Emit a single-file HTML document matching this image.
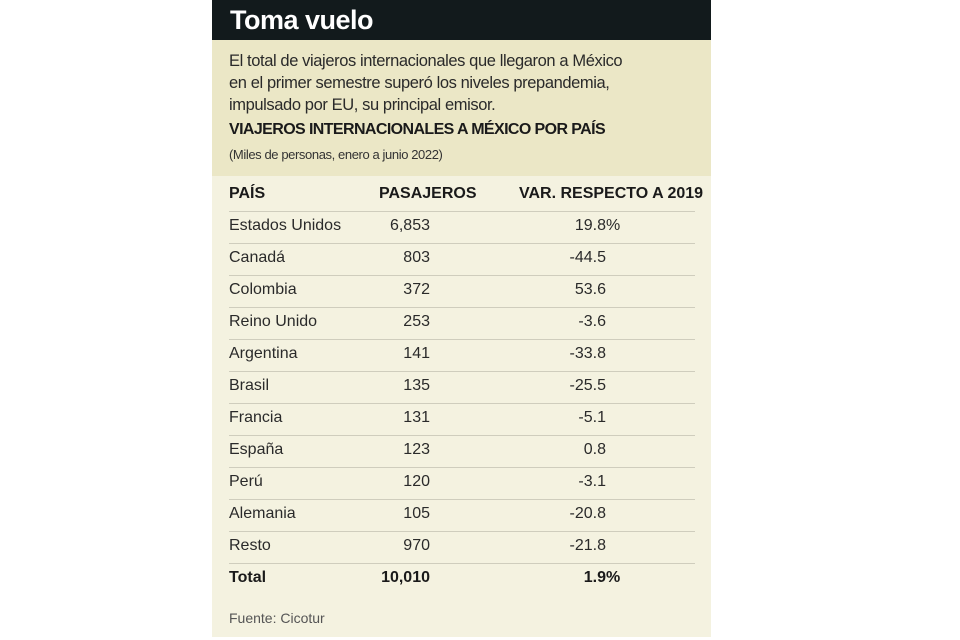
<!DOCTYPE html>
<html><head><meta charset="utf-8"><style>
body{margin:0;width:960px;height:640px;background:#fff;font-family:"Liberation Sans",sans-serif;position:relative;overflow:hidden}
#card{position:absolute;left:212px;top:0;width:499px;height:637px;background:#f4f2e0}
#hdr{position:absolute;left:0;top:0;width:499px;height:40px;background:#121a1c}
#hdr h1{margin:0;position:absolute;left:18px;top:5px;color:#fff;font-size:27px;font-weight:bold;letter-spacing:-0.5px}
#intro{position:absolute;left:0;top:40px;width:499px;height:136px;background:#ebe7c6}
.t{position:absolute;color:#222;white-space:nowrap}
#desc{left:17px;top:10px;font-size:16.5px;line-height:22px;letter-spacing:-0.4px;color:#2a2a2a}
#sub{left:17px;top:81px;font-size:16px;font-weight:bold;letter-spacing:-0.6px;color:#1a1a1a}
#unit{left:17px;top:107px;font-size:13px;letter-spacing:-0.4px;color:#333}
.row{position:absolute;left:17px;width:466px;height:32px;font-size:16px;color:#2a2a2a}
.row span{position:absolute;top:6px;white-space:nowrap}
.line{position:absolute;left:17px;width:466px;height:1px;background:#cfcdbd}
</style></head><body>
<div id="card">
 <div id="hdr"><h1>Toma vuelo</h1></div>
 <div id="intro">
  <div class="t" id="desc">El total de viajeros internacionales que llegaron a México<br>en el primer semestre superó los niveles prepandemia,<br>impulsado por EU, su principal emisor.</div>
  <div class="t" id="sub">VIAJEROS INTERNACIONALES A MÉXICO POR PAÍS</div>
  <div class="t" id="unit">(Miles de personas, enero a junio 2022)</div>
 </div>
 <div id="tbl"></div>
 <div class="t" style="left:17px;top:610px;font-size:14px;color:#555">Fuente: Cicotur</div>
</div>
<script>
const countries=["Estados Unidos","Canadá","Colombia","Reino Unido","Argentina","Brasil","Francia","España","Perú","Alemania","Resto"];
const passengers=["6,853","803","372","253","141","135","131","123","120","105","970"];
const variation=["19.8%","-44.5","53.6","-3.6","-33.8","-25.5","-5.1","0.8","-3.1","-20.8","-21.8"];
const totalLabel="Total",totalPassengers="10,010",totalVar="1.9%";
const tbl=document.getElementById('tbl');
function row(y,a,b,c,bold,name){
 const r=document.createElement('div');r.className='row';r.style.top=y+'px';
 
 
 if(bold){r.style.fontWeight='bold';r.style.color='#1a1a1a';}
 const pct=c.endsWith('%');const cv=pct?c.slice(0,-1):c;
 r.innerHTML='<span style="left:0">'+a+'</span><span style="right:265px">'+b+'</span><span style="right:89px">'+cv+'</span>'+(pct?'<span style="left:377px">%</span>':'');
 tbl.appendChild(r);
}
function line(y){const l=document.createElement('div');l.className='line';l.style.top=y+'px';
 
 
 tbl.appendChild(l);}
const h=document.createElement('div');h.className='row';h.style.top='179px';h.style.fontWeight='bold';h.style.color='#1a1a1a';


h.innerHTML='<span style="left:0">PAÍS</span><span style="left:150px">PASAJEROS</span><span style="left:290px">VAR. RESPECTO A 2019</span>';
tbl.appendChild(h);
line(211);
countries.forEach((c,i)=>{row(211+i*32,c,passengers[i],variation[i],false,'table-row');line(243+i*32);});
row(211+countries.length*32,totalLabel,totalPassengers,totalVar,true,'total-row');
</script>
</body></html>
